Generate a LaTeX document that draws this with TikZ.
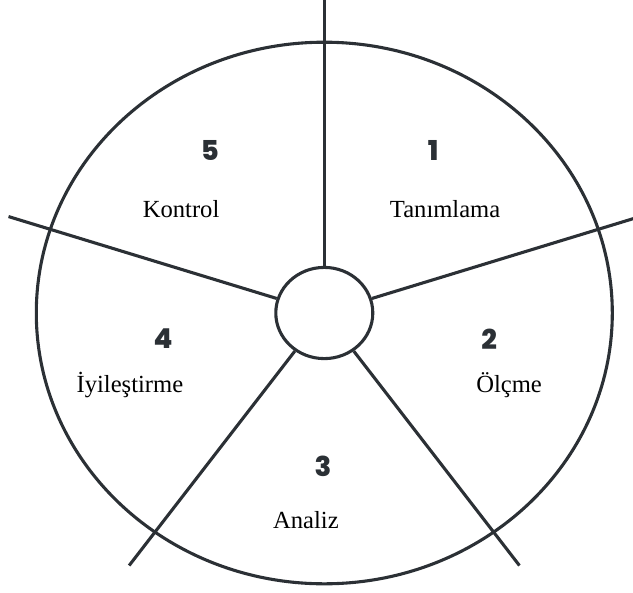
\documentclass[tikz,border=0pt]{standalone}
\usepackage{fontspec}
\setmainfont{Liberation Serif}
\newfontfamily\numfont{Poppins}[BoldFont={Poppins ExtraBold}]
\usetikzlibrary{shapes.geometric}
\definecolor{ink}{HTML}{2B3035}
\tikzset{
  rim/.style   = {draw=ink, line width=2.2pt},
  hub/.style   = {ellipse, draw=ink, line width=2.2pt, inner sep=0pt, minimum width=2.425cm, minimum height=2.28cm},
  spoke/.style = {draw=ink, line width=2.2pt},
  num/.style   = {font=\numfont\bfseries\fontsize{19.5}{19.5}\selectfont, text=ink, inner sep=0pt},
  lbl/.style   = {font=\fontsize{17.5}{17.5}\selectfont, inner sep=0pt, anchor=base}
}

\begin{document}
\begin{tikzpicture}
\useasboundingbox (-8.1075,-6.975) rectangle (7.7175,7.825);
\draw[rim] (0,0) ellipse [x radius=7.2cm, y radius=6.77cm];
\node[hub] (hub) at (0,0) {};

\coordinate (top)      at (0,7.85);
\coordinate (right)    at (7.894,2.411);
\coordinate (lowright) at (4.879,-6.313);
\coordinate (lowleft)  at (-4.879,-6.313);
\coordinate (left)     at (-7.894,2.411);

\draw[spoke] (hub) -- (top);
\draw[spoke] (hub) -- (right);
\draw[spoke] (hub) -- (lowright);
\draw[spoke] (hub) -- (lowleft);
\draw[spoke] (hub) -- (left);

\node[num] (n1) at (2.72,4.075) {1};
\node[lbl] (t1) at (3.02,2.4) {Tanımlama};
\node[num] (n2) at (4.12,-0.65) {2};
\node[lbl] (t2) at (4.62,-1.975) {Ölçme};
\node[num] (n3) at (-0.03,-3.83) {3};
\node[lbl] (t3) at (-0.46,-5.375) {Analiz};
\node[num] (n4) at (-4.03,-0.65) {4};
\node[lbl] (t4) at (-4.86,-1.975) {İyileştirme};
\node[num] (n5) at (-2.86,4.075) {5};
\node[lbl] (t5) at (-3.58,2.4) {Kontrol};
\end{tikzpicture}
\end{document}
